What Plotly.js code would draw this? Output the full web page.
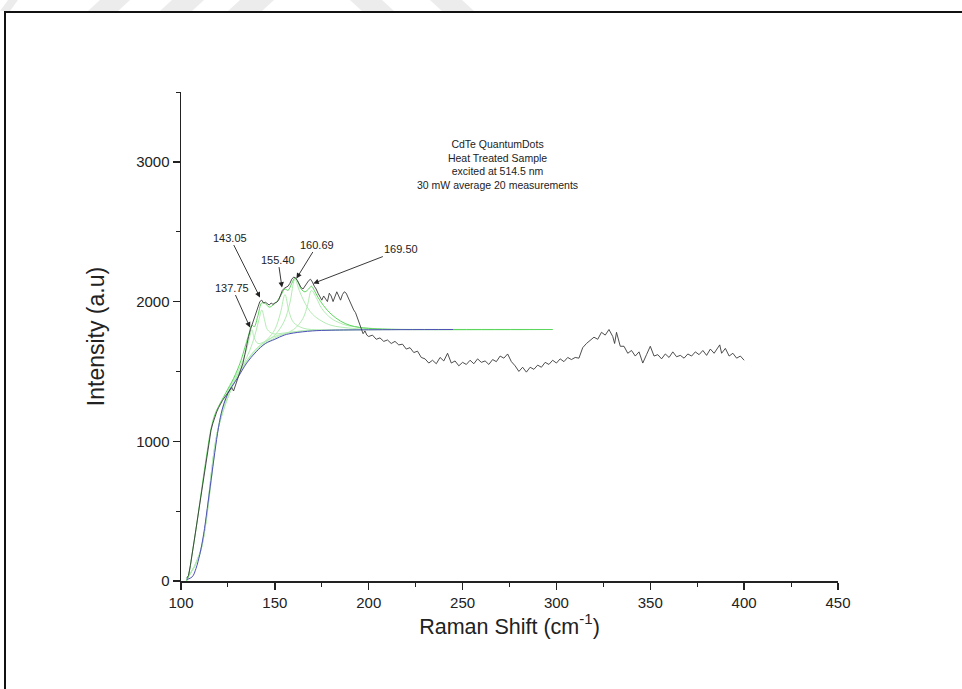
<!DOCTYPE html>
<html>
<head>
<meta charset="utf-8">
<script src="https://cdn.plot.ly/plotly-3.0.1.min.js"></script>
<style>html,body{margin:0;padding:0;background:#fff;}#chart{width:962px;height:689px;}</style>
</head>
<body>
<div id="chart"></div>
<script>
// Measured spectrum (Raman shift, intensity)
const dataX = [103,104,105,106,107,108,109,110,111,112,113,114,115,116,117,118,119,120,121,122,123,124,125,126,127,128,129,130,131,132,133,134,135,136,137,138,139,140,141,142,143,144,145,146,147,148,149,150,151,152,153,154,155,156,157,158,159,160,161,162,163,164,165,166,167,168,169,170,171,172,173,174,175,176,177,178,179,180,181,182,183,184,185,186,187,188,189,190,191,192,193,194,195,196,197,198,199,200,202,204,206,208,210,212,214,216,218,220,222,224,226,228,230,232,234,236,238,240,242,244,246,248,250,252,254,256,258,260,262,264,266,268,270,272,274,276,278,280,282,284,286,288,290,292,294,296,298,300,302,304,306,308,310,312,314,316,318,320,322,324,326,328,330,331,332,334,336,338,340,342,344,346,348,350,352,354,356,358,360,362,364,366,368,370,372,374,376,378,380,382,384,386,387,388,390,392,394,396,398,400];
const dataY = [20,40,110,200,290,370,460,560,650,750,840,930,1010,1080,1130,1180,1210,1240,1270,1290,1310,1330,1345,1370,1385,1360,1400,1430,1470,1510,1560,1620,1690,1750,1800,1840,1870,1910,1960,2000,2010,1990,1995,1985,1975,1990,1980,1990,1995,2010,2040,2080,2095,2100,2110,2130,2160,2175,2170,2150,2120,2100,2090,2110,2130,2150,2160,2140,2110,2090,2060,2030,2010,2040,2020,2000,2060,2040,2000,2030,2070,2040,2010,2050,2070,2060,2030,1990,1960,1940,1920,1880,1840,1800,1770,1790,1760,1750,1760,1730,1740,1715,1725,1700,1715,1690,1695,1660,1670,1635,1645,1600,1590,1560,1580,1555,1600,1575,1630,1560,1575,1540,1565,1550,1580,1555,1590,1565,1575,1550,1585,1570,1610,1595,1625,1570,1540,1500,1530,1495,1530,1515,1545,1530,1565,1550,1580,1560,1590,1570,1600,1585,1600,1595,1670,1700,1720,1745,1730,1780,1760,1800,1750,1700,1780,1680,1680,1630,1650,1610,1640,1560,1620,1680,1610,1620,1590,1625,1600,1640,1605,1615,1595,1625,1610,1640,1620,1650,1615,1660,1630,1670,1690,1630,1665,1610,1630,1595,1610,1580];

// Fitted baseline
const baseX = [103,106,108,110,112,114,116,118,120,122,124,126,128,130,135,140,145,150,155,160,170,180,200,245];
const baseY = [10,30,90,190,330,520,720,920,1100,1230,1310,1370,1410,1450,1560,1640,1700,1730,1760,1775,1790,1795,1798,1800];

// Cumulative fit
const fitX = [103,104,106,108,110,112,114,116,118,120,122,124,126,128,130,132,134,136,137.75,139,141,143,145,147,149,151,153,155.4,157,159,160.7,162,164,166,168,169.5,171,173,176,180,185,190,195,200,210,230,260,298];
const fitY = [0,40,200,370,560,750,930,1090,1190,1250,1300,1350,1400,1450,1510,1580,1670,1760,1830,1820,1900,1990,1985,1960,1975,2000,2040,2090,2080,2130,2170,2150,2090,2070,2090,2110,2080,2030,1970,1910,1860,1830,1815,1808,1802,1800,1800,1800];

// Individual fitted peaks
const peakLabels = ["137.75","143.05","155.40","160.69","169.50"];
const p1X = [103,110,120,125,130,133,135,136.5,137.75,139,141,144,148,155,165,180,200,298];
const p1Y = [10,200,1110,1360,1490,1580,1660,1740,1800,1740,1700,1710,1740,1770,1790,1796,1799,1800];
const p2X = [103,110,120,125,130,135,138,140,141.5,143.05,144.5,146,149,155,165,180,298];
const p2Y = [10,195,1105,1345,1475,1600,1700,1790,1870,1940,1870,1800,1770,1775,1790,1797,1800];
const p3X = [103,110,120,130,140,146,150,153,155.4,157.5,160,165,175,200,298];
const p3Y = [10,192,1102,1465,1660,1730,1800,1920,2050,1930,1850,1810,1797,1799,1800];
const p4X = [103,110,120,130,140,150,155,158,160.69,163,166,170,175,180,190,200,298];
const p4Y = [10,192,1102,1465,1660,1760,1860,1990,2160,2080,1990,1910,1860,1830,1810,1803,1800];
const p5X = [103,110,120,130,140,150,160,165,167.5,169.5,172,175,180,185,190,200,210,298];
const p5Y = [10,191,1101,1462,1650,1740,1800,1880,1980,2080,2030,1950,1880,1845,1825,1810,1802,1800];

// Arrow tips (x, y) for labels
const tipX = [136.8,142.1,153.8,161.5,170.5];
const tipY = [1814,2029,2100,2165,2130];

const xTicks = [100,150,200,250,300,350,400,450];
const yTicks = [0,1000,2000,3000];

const infoLines = ["CdTe QuantumDots","Heat Treated Sample","excited at 514.5 nm","30 mW average 20 measurements"];

// Faint background watermark bands at top of the page (pixel x at bottom/top edge)
const bandBottomL = [0,88,160,228,362,442];
const bandBottomR = [10,118,192,262,394,474];
const bandShift   = [8,12,12,12,-12,-12];

const peakColor = '#b3ecb3';
const traces = [
  {x:p1X,y:p1Y,mode:'lines',line:{color:peakColor,width:1,shape:'spline'},hoverinfo:'skip'},
  {x:p2X,y:p2Y,mode:'lines',line:{color:peakColor,width:1,shape:'spline'},hoverinfo:'skip'},
  {x:p3X,y:p3Y,mode:'lines',line:{color:peakColor,width:1,shape:'spline'},hoverinfo:'skip'},
  {x:p4X,y:p4Y,mode:'lines',line:{color:peakColor,width:1,shape:'spline'},hoverinfo:'skip'},
  {x:p5X,y:p5Y,mode:'lines',line:{color:peakColor,width:1,shape:'spline'},hoverinfo:'skip'},
  {x:fitX,y:fitY,mode:'lines',line:{color:'#5cd65c',width:1,shape:'spline'}},
  {x:baseX,y:baseY,mode:'lines',line:{color:'#5050b8',width:1,shape:'spline'}},
  {x:dataX,y:dataY,mode:'lines',line:{color:'#3a3a3a',width:0.9}}
];

const FONT = 'Liberation Sans, Arial, sans-serif';
const ann = peakLabels.map((t,i)=>{
  const off = [[-18,-40],[-30,-60],[-4,-28],[21,-34],[88,-34]][i];
  return {x:tipX[i],y:tipY[i],xref:'x',yref:'y',text:t,showarrow:true,
    arrowhead:2,arrowsize:1.2,arrowwidth:0.9,arrowcolor:'#222',ax:off[0],ay:off[1],
    font:{family:FONT,size:11,color:'#222'}};
});
ann.push({xref:'paper',yref:'paper',x:0.481,y:0.851,text:infoLines.join('<br>'),showarrow:false,
  xanchor:'center',yanchor:'middle',align:'center',
  font:{family:FONT,size:10.5,color:'#222'}});

// pixel -> paper helpers for decoration shapes
const L=181, T=92, PW=657, PH=489;
const px2p = px => (px-L)/PW;
const py2p = py => (T+PH-py)/PH;

const shapes = [{type:'rect',xref:'paper',yref:'paper',x0:px2p(5),x1:px2p(975),y0:py2p(700),y1:py2p(12),
    line:{color:'#111',width:2},fillcolor:'rgba(0,0,0,0)',layer:'below'}];
bandBottomL.forEach((b,i)=>{
  const r = bandBottomR[i], s = bandShift[i];
  const path = 'M '+px2p(b)+' '+py2p(11)+' L '+px2p(r)+' '+py2p(11)+' L '+px2p(r+s)+' '+py2p(0)+' L '+px2p(b+s)+' '+py2p(0)+' Z';
  shapes.push({type:'path',xref:'paper',yref:'paper',path:path,line:{width:0},fillcolor:'#ececec',layer:'below'});
});

const axisFont = {family:FONT,size:15,color:'#222'};
const layout = {
  width:962,height:689,
  margin:{l:181,r:124,t:92,b:108},
  paper_bgcolor:'#fff',plot_bgcolor:'#fff',
  showlegend:false,
  xaxis:{range:[100,450],tickvals:xTicks,ticks:'outside',ticklen:7,tickwidth:1.3,tickcolor:'#222',
    showline:true,linecolor:'#222',linewidth:1.5,showgrid:false,zeroline:false,tickfont:axisFont,
    minor:{dtick:25,ticks:'outside',ticklen:4,tickwidth:1,tickcolor:'#222',showgrid:false},
    title:{text:'Raman Shift (cm<sup>-1</sup>)',font:{family:FONT,size:21.5,color:'#222'},standoff:0}},
  yaxis:{range:[0,3500],tickvals:yTicks,ticks:'outside',ticklen:7,tickwidth:1.3,tickcolor:'#222',
    showline:true,linecolor:'#222',linewidth:1.5,showgrid:false,zeroline:false,tickfont:axisFont,
    minor:{dtick:500,ticks:'outside',ticklen:4,tickwidth:1,tickcolor:'#222',showgrid:false},
    title:{text:'Intensity (a.u)',font:{family:FONT,size:23,color:'#222'},standoff:25}},
  annotations:ann,
  shapes:shapes
};
Plotly.newPlot('chart',traces,layout,{displayModeBar:false,staticPlot:true});
</script>
</body>
</html>
